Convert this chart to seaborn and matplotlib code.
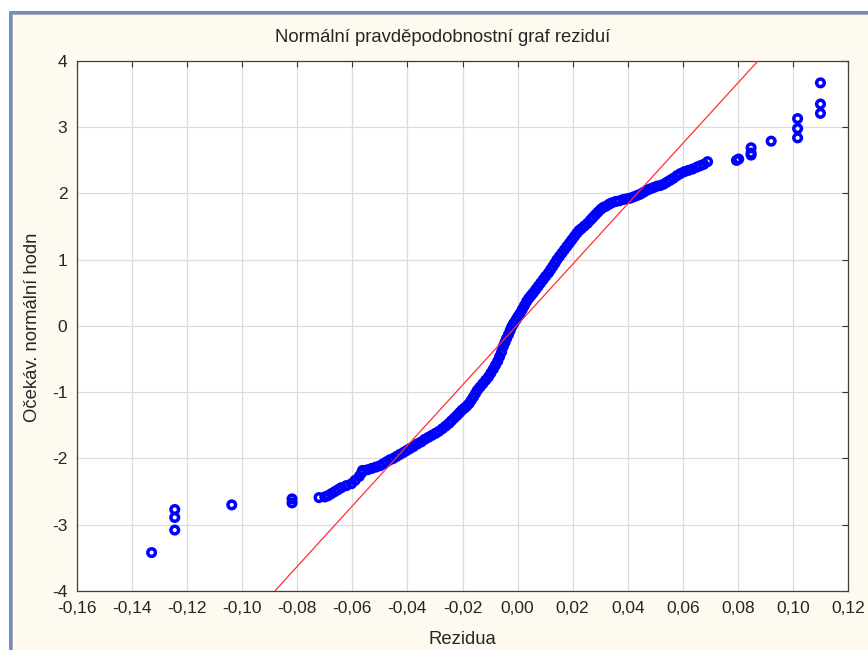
import matplotlib
matplotlib.use("Agg")
import matplotlib.pyplot as plt
import matplotlib.ticker as mticker
import pandas as pd
import seaborn as sns
from matplotlib.lines import Line2D
from matplotlib.patches import Rectangle

# Residuals (x) and expected normal values (y)
res_low = [-0.1329, -0.1245, -0.1245, -0.1245, -0.1038, -0.0819, -0.0819]
exp_low = [-3.42, -3.08, -2.89, -2.77, -2.70, -2.67, -2.61]

res_band = [
    -0.0721, -0.0700, -0.0688, -0.0676, -0.0664, -0.0652, -0.0640, -0.0622, -0.0603, -0.0590, -0.0575,
    -0.0567, -0.0563, -0.0545, -0.0530, -0.0515, -0.0500, -0.0488, -0.0476, -0.0464, -0.0452,
    -0.0440, -0.0428, -0.0415, -0.0403, -0.0391, -0.0378, -0.0364, -0.0350, -0.0337, -0.0324,
    -0.0311, -0.0298, -0.0286, -0.0273, -0.0261, -0.0249, -0.0240, -0.0230, -0.0220, -0.0211,
    -0.0202, -0.0193, -0.0185, -0.0176, -0.0168, -0.0160, -0.0153, -0.0146, -0.0136,
    -0.0126, -0.0116, -0.0106, -0.0097, -0.0088, -0.0080, -0.0072, -0.0065, -0.0058, -0.0052,
    -0.0046, -0.0040, -0.0033, -0.0027, -0.0021, -0.0014, -0.0006, 0.0001, 0.0009, 0.0017,
    0.0025, 0.0033, 0.0041, 0.0049, 0.0057, 0.0066, 0.0075, 0.0084, 0.0093, 0.0102,
    0.0112, 0.0120, 0.0128, 0.0136, 0.0143, 0.0152, 0.0161, 0.0170, 0.0179, 0.0188,
    0.0197, 0.0206, 0.0215, 0.0223, 0.0232, 0.0243, 0.0254, 0.0265, 0.0274, 0.0283,
    0.0292, 0.0302, 0.0311, 0.0322, 0.0333, 0.0343, 0.0357, 0.0370, 0.0384, 0.0397,
    0.0409, 0.0422, 0.0434, 0.0446, 0.0458, 0.0470, 0.0482, 0.0494, 0.0506, 0.0518,
    0.0530, 0.0542, 0.0554, 0.0566, 0.0579, 0.0591, 0.0606, 0.0621, 0.0636, 0.0652,
    0.0664, 0.0676, 0.0690,
]
exp_band = [
    -2.59, -2.58, -2.56, -2.53, -2.50, -2.47, -2.44, -2.41, -2.38, -2.33, -2.27,
    -2.22, -2.18, -2.17, -2.15, -2.13, -2.11, -2.08, -2.05, -2.02, -2.00,
    -1.97, -1.94, -1.91, -1.88, -1.85, -1.82, -1.78, -1.75, -1.71, -1.68,
    -1.65, -1.62, -1.59, -1.55, -1.51, -1.47, -1.43, -1.39, -1.35, -1.31,
    -1.27, -1.24, -1.21, -1.17, -1.12, -1.07, -1.02, -0.97, -0.92,
    -0.87, -0.82, -0.77, -0.71, -0.65, -0.59, -0.53, -0.46, -0.39, -0.31,
    -0.25, -0.19, -0.13, -0.07, -0.01, 0.04, 0.09, 0.14, 0.19, 0.25,
    0.31, 0.37, 0.42, 0.46, 0.50, 0.55, 0.60, 0.65, 0.70, 0.75,
    0.80, 0.85, 0.90, 0.95, 1.00, 1.05, 1.10, 1.15, 1.20, 1.25,
    1.30, 1.35, 1.40, 1.44, 1.47, 1.51, 1.55, 1.60, 1.64, 1.68,
    1.72, 1.76, 1.79, 1.81, 1.84, 1.86, 1.88, 1.89, 1.91, 1.92,
    1.93, 1.95, 1.97, 1.99, 2.02, 2.05, 2.07, 2.09, 2.11, 2.12,
    2.14, 2.17, 2.20, 2.23, 2.27, 2.30, 2.33, 2.35, 2.37, 2.40,
    2.42, 2.44, 2.48,
]

res_high = [0.0795, 0.0803, 0.0848, 0.0848, 0.0848, 0.0921, 0.1017, 0.1017, 0.1017, 0.1100, 0.1100, 0.1100]
exp_high = [2.50, 2.52, 2.58, 2.61, 2.69, 2.79, 2.84, 2.98, 3.13, 3.21, 3.35, 3.67]

# normal fit line
fit_slope = 45.6
fit_intercept = 0.02

x_ticks = [-0.16, -0.14, -0.12, -0.10, -0.08, -0.06, -0.04, -0.02, 0.00, 0.02, 0.04, 0.06, 0.08, 0.10, 0.12]
y_ticks = [-4, -3, -2, -1, 0, 1, 2, 3, 4]

df = pd.DataFrame({
    "residual": res_low + res_band + res_high,
    "expected": exp_low + exp_band + exp_high,
})

sns.set_theme(style="white")
plt.rcParams["font.family"] = ["Liberation Sans", "DejaVu Sans"]
plt.rcParams["axes.unicode_minus"] = False

W, H = 868, 650
fig = plt.figure(figsize=(W / 100, H / 100), dpi=100, facecolor="white")

# window frame look
fig.add_artist(Rectangle((9.5 / W, 0), 1, 1 - 11.5 / H, transform=fig.transFigure,
                         facecolor="#FFFAF0", edgecolor="none", zorder=0))
fig.add_artist(Line2D([9.5 / W, 1], [1 - 11.5 / H, 1 - 11.5 / H], transform=fig.transFigure,
                      color="#6E8FCB", lw=2.2))
fig.add_artist(Line2D([9.5 / W, 9.5 / W], [0, 1 - 11.5 / H], transform=fig.transFigure,
                      color="#6E8FCB", lw=2.2))
fig.add_artist(Line2D([12 / W, 1], [1 - 14 / H, 1 - 14 / H], transform=fig.transFigure,
                      color="#A8A8A8", lw=0.7))
fig.add_artist(Line2D([12 / W, 12 / W], [0, 1 - 14 / H], transform=fig.transFigure,
                      color="#A8A8A8", lw=0.7))

ax = fig.add_axes([77 / W, 1 - 591 / H, (848 - 77) / W, (591 - 61) / H])
ax.set_facecolor("white")

sns.scatterplot(data=df, x="residual", y="expected", ax=ax, marker="o", s=30,
                facecolor="none", edgecolor="#0000FF", linewidth=2.5, zorder=3)
ax.axline((0, fit_intercept), slope=fit_slope, color="#FF3030", lw=0.9, zorder=4)

ax.set_xlim(-0.16, 0.12)
ax.set_ylim(-4, 4)
ax.set_xticks(x_ticks)
ax.set_yticks(y_ticks)
ax.xaxis.set_major_formatter(mticker.FuncFormatter(lambda v, p: f"{v:.2f}".replace(".", ",")))
ax.yaxis.set_major_formatter(mticker.FuncFormatter(lambda v, p: f"{v:.0f}"))
ax.grid(True, color="#DCDCDC", lw=0.9)
ax.set_axisbelow(True)
ax.tick_params(direction="in", length=4, width=0.8, color="#333333", labelsize=12.5,
               top=True, right=True, pad=7)
for s in ax.spines.values():
    s.set_color("#404040")
    s.set_linewidth(0.9)
ax.set_xlabel("")
ax.set_ylabel("")

fig.text(443 / W, 1 - 38 / H, "Normální pravděpodobnostní graf reziduí",
         ha="center", va="center", fontsize=13.3)
fig.text(33 / W, 1 - 327 / H, "Očekáv. normální hodn", rotation=90,
         ha="center", va="center", fontsize=13.3)
fig.text(462 / W, 1 - 640 / H, "Rezidua", ha="center", va="center", fontsize=13.3)

fig.savefig("out.png", dpi=100, facecolor=fig.get_facecolor())
